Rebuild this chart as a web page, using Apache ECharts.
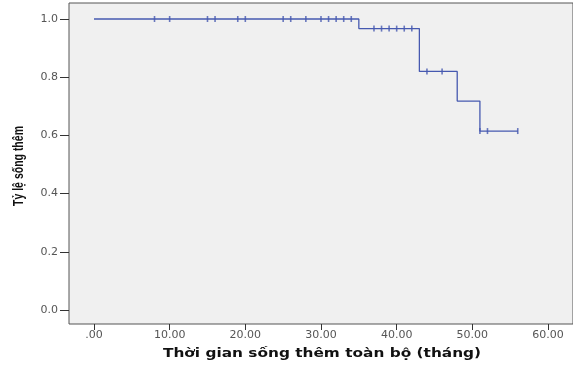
<!DOCTYPE html>
<html>
<head>
<meta charset="utf-8">
<script src="https://cdn.jsdelivr.net/npm/echarts@6/dist/echarts.min.js"></script>
<style>
  html, body { margin: 0; padding: 0; background: #fff; }
  #chart { width: 573px; height: 365px; }
</style>
</head>
<body>
<div id="chart"></div>
<script>
// Kaplan-Meier: thời gian sống thêm toàn bộ
const stepTimes = [0, 35, 43, 48, 51, 56];
const stepSurv  = [1.0, 0.967, 0.820, 0.718, 0.615, 0.615];

// các điểm kiểm duyệt (censored)
const censorTimes = [8, 10, 15, 16, 19, 20, 25, 26, 28, 30, 31, 32, 33, 34,
                     37, 38, 39, 40, 41, 42, 44, 46, 51, 52, 56];
const censorSurv  = [1, 1, 1, 1, 1, 1, 1, 1, 1, 1, 1, 1, 1, 1,
                     0.967, 0.967, 0.967, 0.967, 0.967, 0.967, 0.820, 0.820, 0.615, 0.615, 0.615];

const xTicks = [0, 10, 20, 30, 40, 50, 60];
const yTicks = [0, 0.2, 0.4, 0.6, 0.8, 1.0];

const blue = '#4659b0';
const chart = echarts.init(document.getElementById('chart'));

chart.setOption({
    animation: false,
    backgroundColor: '#ffffff',
    grid: {
        left: 69, right: -2, top: 3, bottom: 41,
        show: true,
        backgroundColor: '#f0f0f0',
        borderColor: '#555555',
        borderWidth: 1
    },
    xAxis: {
        type: 'value',
        min: -3.3, max: 63.3,
        axisLine: { show: false, onZero: false },
        splitLine: { show: false },
        axisTick: { show: true, length: 6, customValues: xTicks, lineStyle: { color: '#333' } },
        axisLabel: {
            customValues: xTicks,
            margin: 6,
            fontFamily: 'DejaVu Sans', fontSize: 11, color: '#555',
            formatter: v => v === 0 ? '.00' : v.toFixed(2)
        }
    },
    yAxis: {
        type: 'value',
        min: -0.048, max: 1.055,
        axisLine: { show: false, onZero: false },
        splitLine: { show: false },
        axisTick: { show: true, length: 9, customValues: yTicks, lineStyle: { color: '#333' } },
        axisLabel: {
            customValues: yTicks,
            margin: 11,
            fontFamily: 'DejaVu Sans', fontSize: 11, color: '#555',
            formatter: v => v.toFixed(1)
        }
    },
    graphic: [{
        // tên trục Y
        type: 'text',
        x: 19, y: 166,
        rotation: Math.PI / 2,
        scaleX: 0.7,
        style: {
            text: 'Tỷ lệ sống thêm',
            font: 'bold 15px "Liberation Sans Narrow", "Liberation Sans"',
            fill: '#111',
            align: 'center',
            verticalAlign: 'middle'
        }
    }, {
        // tên trục X
        type: 'text',
        x: 322, y: 354,
        scaleX: 1.18,
        style: {
            text: 'Thời gian sống thêm toàn bộ (tháng)',
            font: 'bold 13px "DejaVu Sans"',
            fill: '#111',
            align: 'center',
            verticalAlign: 'middle'
        }
    }],
    series: [{
        type: 'line',
        step: 'end',
        data: stepTimes.map((t, i) => [t, stepSurv[i]]),
        symbol: 'none',
        lineStyle: { color: blue, width: 1.3 }
    }, {
        type: 'scatter',
        data: censorTimes.map((t, i) => [t, censorSurv[i]]),
        symbol: 'rect',
        symbolSize: [1.6, 6],
        itemStyle: { color: blue }
    }]
});
</script>
</body>
</html>
